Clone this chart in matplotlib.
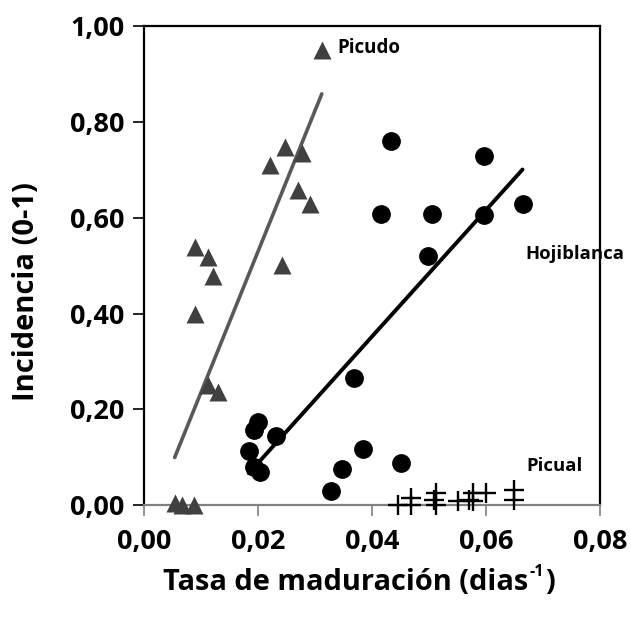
import numpy as np
import matplotlib
matplotlib.use("Agg")
import matplotlib.pyplot as plt

plt.rcParams['font.family'] = ['Open Sans', 'DejaVu Sans']

# Picudo (triangles)
picudo_x = [0.0312, 0.0221, 0.0247, 0.0278, 0.0270, 0.0292, 0.0242, 0.0089, 0.0112,
            0.0121, 0.0089, 0.0112, 0.0130, 0.0054, 0.0066, 0.0088]
picudo_y = [0.950, 0.710, 0.747, 0.735, 0.657, 0.628, 0.501, 0.539, 0.518,
            0.478, 0.399, 0.251, 0.237, 0.005, 0.0, 0.0]

# Hojiblanca (circles)
hoji_x = [0.0434, 0.0597, 0.0416, 0.0505, 0.0597, 0.0498, 0.0369, 0.0200, 0.0193,
          0.0231, 0.0184, 0.0194, 0.0203, 0.0384, 0.0348, 0.0451, 0.0329, 0.0664]
hoji_y = [0.760, 0.729, 0.607, 0.607, 0.605, 0.520, 0.266, 0.174, 0.157,
          0.145, 0.113, 0.079, 0.070, 0.118, 0.075, 0.089, 0.029, 0.628]

# Picual (crosses)
picual_x = [0.0445, 0.0469, 0.0469, 0.0512, 0.0508, 0.0512, 0.0550, 0.0577, 0.0577,
            0.0571, 0.0600, 0.0649, 0.0649]
picual_y = [0.0, 0.015, 0.0, 0.025, 0.012, 0.0, 0.010, 0.025, 0.008,
            0.012, 0.025, 0.032, 0.011]

# trend lines (slope, intercept)
picudo_fit = (29.4, -0.059)
hoji_fit = (13.2, -0.176)

xticks = [0.0, 0.02, 0.04, 0.06, 0.08]
yticks = [0.0, 0.2, 0.4, 0.6, 0.8, 1.0]

W, H = 631, 617
fig = plt.figure(figsize=(W / 100, H / 100), dpi=100)
ax = fig.add_axes([0.228, 0.181, 0.723, 0.777])

ax.plot(picudo_x, picudo_y, ls='none', marker='^', ms=13, color='#404040', mec='none', clip_on=False, zorder=3)
ax.plot(hoji_x, hoji_y, ls='none', marker='o', ms=12.5, color='black', clip_on=False, zorder=3)
ax.plot(picual_x, picual_y, ls='none', marker='+', ms=14, mew=1.7, color='black', clip_on=False, zorder=3)

xx = np.array([min(picudo_x), max(picudo_x)])
ax.plot(xx, picudo_fit[0] * xx + picudo_fit[1], color='#595959', lw=2.6, solid_capstyle='round')
xx = np.array([min(hoji_x), max(hoji_x)])
ax.plot(xx, hoji_fit[0] * xx + hoji_fit[1], color='black', lw=2.8, solid_capstyle='round')

ax.text(0.0340, 0.953, 'Picudo', fontsize=13.5, fontweight='bold', va='center', ha='left')
ax.text(0.0756, 0.525, 'Hojiblanca', fontsize=13.3, fontweight='bold', va='center', ha='center')
ax.text(0.0720, 0.082, 'Picual', fontsize=13.3, fontweight='bold', va='center', ha='center')

ax.set_xlim(0, 0.08)
ax.set_ylim(0, 1.0)
ax.set_xticks(xticks)
ax.set_yticks(yticks)
ax.set_xticklabels([f'{v:.2f}'.replace('.', ',') for v in xticks], fontweight='bold')
ax.set_yticklabels([f'{v:.2f}'.replace('.', ',') for v in yticks], fontweight='bold')
ax.tick_params(axis='both', labelsize=19.5, direction='out', length=8, width=1.2)
ax.tick_params(axis='x', color='#808080', pad=9)
ax.tick_params(axis='y', pad=6)
for s in ['top', 'right', 'left']:
    ax.spines[s].set_color('black')
    ax.spines[s].set_linewidth(1.6)
ax.spines['bottom'].set_color('#808080')
ax.spines['bottom'].set_linewidth(1.6)

# axis titles, sized to the reference widths
fig.canvas.draw()
r = fig.canvas.get_renderer()

yl = fig.text(27 / W, 1 - 292 / H, 'Incidencia (0-1)', fontsize=19, fontweight='bold',
              rotation=90, ha='center', va='center')
h = yl.get_window_extent(r).height
yl.set_fontsize(19 * 218 / h)

fs = 20
p1 = fig.text(163 / W, 1 - 582 / H, 'Tasa de maduración (dias', fontsize=fs, fontweight='bold',
              ha='left', va='center')
w1 = p1.get_window_extent(r).width
fs = fs * 366 / w1
p1.set_fontsize(fs)
bb = p1.get_window_extent(r)
sup = fig.text((bb.x1 + 1) / W, 1 - 572 / H, '-1', fontsize=fs * 0.55, fontweight='bold',
               ha='left', va='center')
bs = sup.get_window_extent(r)
fig.text((bs.x1 + 1) / W, 1 - 582 / H, ')', fontsize=fs, fontweight='bold', ha='left', va='center')

fig.savefig('out.png', dpi=100)
